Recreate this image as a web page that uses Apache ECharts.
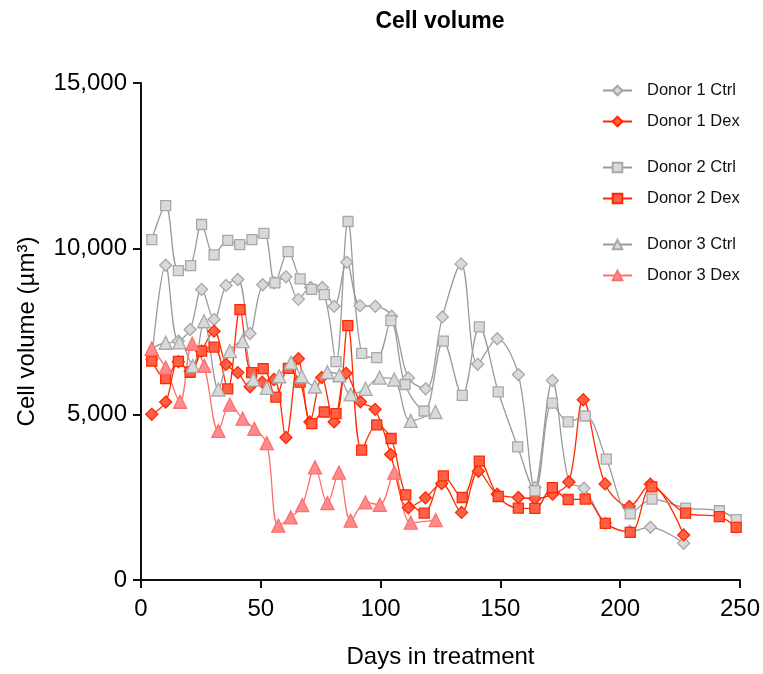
<!DOCTYPE html>
<html>
<head>
<meta charset="utf-8">
<script src="https://cdn.jsdelivr.net/npm/echarts@6/dist/echarts.min.js"></script>
<style>
  html, body { margin: 0; padding: 0; background: #fff; }
  #chart { width: 763px; height: 674px; }
</style>
</head>
<body>
<div id="chart"></div>
<script>
// days in treatment + cell volume (µm³)
const d1CtrlDays = [4.5, 10.3, 15.6, 20.5, 25.3, 30.5, 35.5, 40.4, 45.5, 50.8, 55.6, 60.5, 65.7, 70.8, 75.7, 80.6, 85.9, 91.4, 97.8, 104.6, 111.6, 118.8, 125.8, 133.6, 140.5, 148.7, 157.5, 164.4, 171.7, 178.6, 184.9, 193.9, 204.0, 212.6, 226.5]
const d1Ctrl = [6660, 9500, 7210, 7560, 8770, 7860, 8890, 9070, 7440, 8910, 8970, 9150, 8470, 8830, 8830, 8260, 9590, 8280, 8260, 7960, 6100, 5770, 7940, 9540, 6510, 7280, 6200, 2790, 6020, 2960, 2770, 1710, 1470, 1590, 1110]

const d1DexDays = [4.5, 10.3, 15.6, 20.5, 25.3, 30.5, 35.5, 40.4, 45.5, 50.6, 55.5, 60.5, 65.7, 70.5, 75.4, 80.6, 85.6, 91.6, 97.7, 104.2, 111.6, 118.7, 125.5, 133.8, 140.8, 148.7, 157.5, 164.4, 171.8, 178.6, 184.6, 193.7, 203.8, 212.6, 226.5]
const d1Dex = [5000, 5370, 6590, 6300, 6910, 7510, 6510, 6260, 5830, 5970, 6050, 4300, 6680, 4770, 6110, 4770, 6240, 5380, 5150, 3790, 2180, 2480, 2910, 2040, 3280, 2590, 2490, 2460, 2590, 2960, 5440, 2900, 2220, 2890, 1360]

const d2CtrlDays = [4.5, 10.3, 15.6, 20.7, 25.3, 30.5, 36.2, 41.2, 46.3, 51.3, 55.9, 61.4, 66.4, 71.2, 76.5, 81.4, 86.4, 92.1, 98.4, 104.3, 110.2, 118.2, 126.2, 134.1, 141.2, 149.1, 157.2, 164.4, 171.7, 178.3, 185.4, 194.2, 204.2, 213.3, 227.3, 241.4, 248.4]
const d2Ctrl = [10270, 11300, 9340, 9490, 10730, 9810, 10250, 10120, 10270, 10460, 8970, 9910, 9090, 8770, 8610, 6590, 10820, 6840, 6710, 7830, 5900, 5100, 7210, 5570, 7640, 5680, 4020, 2700, 5340, 4770, 4950, 3650, 2000, 2440, 2170, 2090, 1820]

const d2DexDays = [4.5, 10.3, 15.6, 20.5, 25.3, 30.5, 36.2, 41.3, 46.2, 51.0, 56.3, 61.5, 66.4, 71.3, 76.5, 81.4, 86.3, 92.1, 98.4, 104.4, 110.5, 118.2, 126.2, 134.1, 141.2, 149.1, 157.5, 164.4, 171.7, 178.3, 185.4, 193.8, 204.2, 213.2, 227.3, 241.4, 248.4]
const d2Dex = [6610, 6080, 6600, 6270, 6910, 7030, 5770, 8160, 6260, 6380, 5520, 6390, 5970, 4720, 5070, 5020, 7680, 3920, 4680, 4270, 2570, 2020, 3140, 2490, 3590, 2520, 2170, 2160, 2790, 2430, 2440, 1710, 1440, 2810, 2020, 1910, 1590]

const d3CtrlDays = [4.5, 10.3, 16.0, 21.6, 26.3, 32.3, 37.1, 42.4, 46.9, 52.5, 57.7, 62.6, 67.1, 72.6, 77.8, 82.8, 87.5, 93.7, 99.6, 105.7, 112.6, 122.9]
const d3Ctrl = [6980, 7160, 7170, 6460, 7810, 5750, 6910, 7210, 6050, 5800, 6150, 6560, 6150, 5840, 6270, 6180, 5600, 5770, 6110, 6050, 4800, 5070]

const d3DexDays = [4.5, 10.3, 16.3, 21.4, 26.4, 32.3, 37.1, 42.4, 47.3, 52.5, 57.3, 62.5, 67.3, 72.6, 77.8, 82.6, 87.5, 93.7, 99.7, 105.7, 112.6, 123.0]
const d3Dex = [6980, 6410, 5380, 7130, 6460, 4500, 5290, 4870, 4560, 4130, 1640, 1890, 2260, 3400, 2320, 3240, 1790, 2340, 2270, 3240, 1730, 1810]

const FONT = 'Liberation Sans, Arial, sans-serif'
const GRAY_LINE = '#9a9a9a'
const GRAY_FILL = '#d9d9d9'
const GRAY_EDGE = '#a8a8a8'
const RED = '#ff2a00'
const RED_FILL = '#ff6048'
const PINK = '#ff6e6e'
const PINK_FILL = '#ff8c8c'

function pairs(xs, ys) {
  return xs.map((x, i) => [x, ys[i]])
}

function mkSeries(name, xs, ys, symbol, size, line, fill, edge) {
  return {
    name: name,
    type: 'line',
    smooth: 0.35,
    data: pairs(xs, ys),
    symbol: symbol,
    symbolSize: size,
    showAllSymbol: true,
    lineStyle: { color: line, width: 1.3 },
    itemStyle: { color: fill, borderColor: edge, borderWidth: 1.3 },
    emphasis: { disabled: true },
  }
}

const chart = echarts.init(document.getElementById('chart'))

const legendBase = {
  orient: 'vertical',
  left: 602,
  padding: 0,
  itemWidth: 29,
  itemHeight: 12,
  itemGap: 14,
  selectedMode: false,
  textStyle: { fontFamily: FONT, fontSize: 16.5, color: '#111', padding: [0, 0, 0, 10], lineHeight: 17 },
}

const option = {
  animation: false,
  backgroundColor: '#fff',
  title: {
    text: 'Cell volume',
    left: 440,
    top: 10,
    padding: 0,
    textAlign: 'center',
    textStyle: { fontFamily: FONT, fontSize: 23, fontWeight: 'bold', color: '#000' },
  },
  legend: [
    Object.assign({}, legendBase, { top: 82, data: ['Donor 1 Ctrl', 'Donor 1 Dex'] }),
    Object.assign({}, legendBase, { top: 159, data: ['Donor 2 Ctrl', 'Donor 2 Dex'] }),
    Object.assign({}, legendBase, { top: 236, data: ['Donor 3 Ctrl', 'Donor 3 Dex'] }),
  ],
  grid: { left: 141, top: 83, width: 599, height: 498, containLabel: false },
  xAxis: {
    type: 'value',
    min: 0,
    max: 250,
    interval: 50,
    name: 'Days in treatment',
    nameLocation: 'middle',
    nameGap: 65,
    nameTextStyle: { fontFamily: FONT, fontSize: 24, color: '#000' },
    axisLine: { show: true, lineStyle: { color: '#111', width: 2 } },
    axisTick: { show: true, length: 8, lineStyle: { color: '#111', width: 2 } },
    axisLabel: { fontFamily: FONT, fontSize: 24, color: '#000', margin: 17 },
    splitLine: { show: false },
  },
  yAxis: {
    type: 'value',
    min: 0,
    max: 15000,
    interval: 5000,
    name: 'Cell volume (µm³)',
    nameLocation: 'middle',
    nameGap: 102,
    nameTextStyle: { fontFamily: FONT, fontSize: 24, color: '#000' },
    axisLine: { show: true, lineStyle: { color: '#111', width: 2 } },
    axisTick: { show: true, length: 8, lineStyle: { color: '#111', width: 2 } },
    axisLabel: {
      fontFamily: FONT, fontSize: 24, color: '#000', margin: 14,
      formatter: v => v.toLocaleString('en-US'),
    },
    splitLine: { show: false },
  },
  series: [
    mkSeries('Donor 1 Ctrl', d1CtrlDays, d1Ctrl, 'diamond', 12, GRAY_LINE, GRAY_FILL, GRAY_EDGE),
    mkSeries('Donor 1 Dex', d1DexDays, d1Dex, 'diamond', 12, RED, RED_FILL, RED),
    mkSeries('Donor 2 Ctrl', d2CtrlDays, d2Ctrl, 'rect', 10, GRAY_LINE, GRAY_FILL, GRAY_EDGE),
    mkSeries('Donor 2 Dex', d2DexDays, d2Dex, 'rect', 10, RED, RED_FILL, RED),
    mkSeries('Donor 3 Ctrl', d3CtrlDays, d3Ctrl, 'triangle', 13, GRAY_LINE, GRAY_FILL, GRAY_EDGE),
    mkSeries('Donor 3 Dex', d3DexDays, d3Dex, 'triangle', 13, PINK, PINK_FILL, PINK),
  ],
}

chart.setOption(option)
</script>
</body>
</html>
